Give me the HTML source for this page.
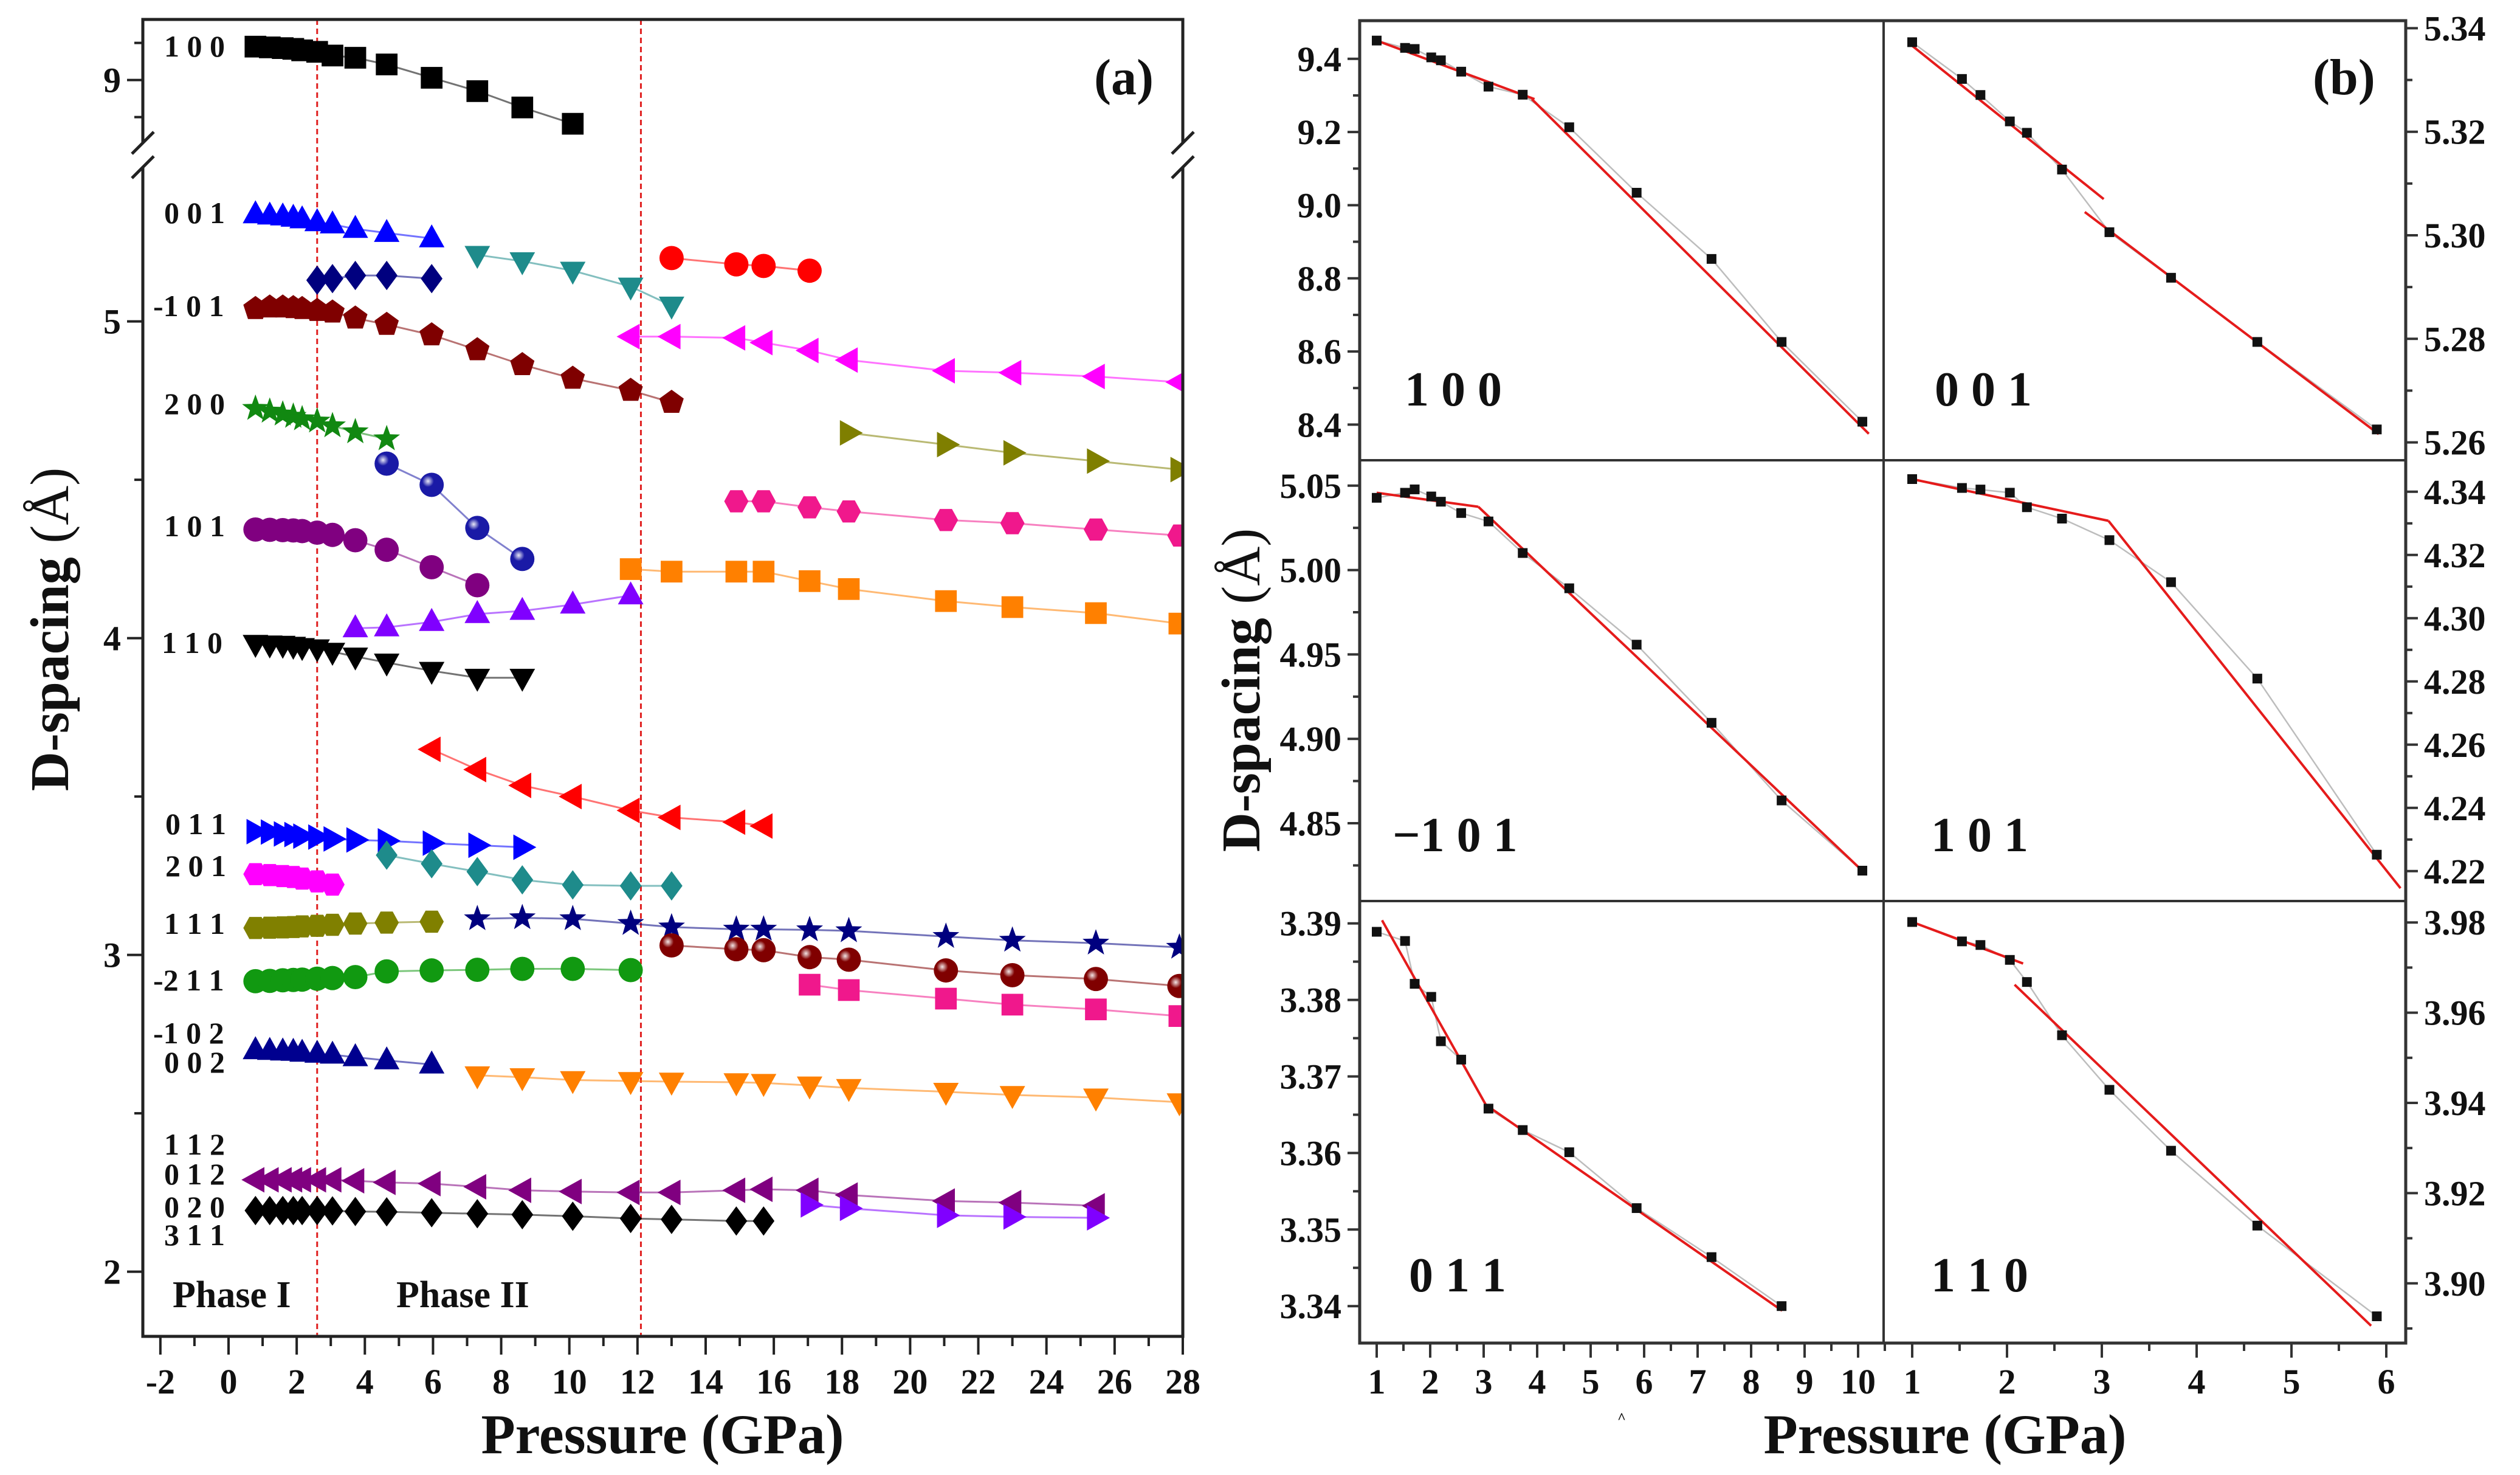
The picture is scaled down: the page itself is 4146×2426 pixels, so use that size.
<!DOCTYPE html>
<html><head><meta charset="utf-8">
<style>
html,body{margin:0;padding:0;background:#fff;}
svg{display:block;}
text{font-family:"Liberation Serif",serif;font-weight:bold;fill:#111;}
</style></head>
<body>
<svg id="chart" width="4146" height="2426" viewBox="0 0 4146 2426" xmlns="http://www.w3.org/2000/svg">
<defs>
<clipPath id="clipA"><rect x="235" y="32" width="1711" height="2166"/></clipPath>
<radialGradient id="ballHi" cx="0.35" cy="0.35" r="0.6"><stop offset="0" stop-color="#fff" stop-opacity="0.9"/><stop offset="0.4" stop-color="#fff" stop-opacity="0"/></radialGradient>
</defs>
<g id="panelA"></g>
<g id="panelB"></g>
</svg>
<script>
// ---------- Panel (a) data ----------
const pA100=[0.79,1.21,1.59,1.9,2.16,2.6,3.05,3.72,4.64,5.96,7.3,8.62,10.1];
const dA100=[9.45,9.44,9.43,9.42,9.40,9.38,9.33,9.30,9.21,9.03,8.85,8.63,8.41];
const pA001=[0.79,1.21,1.59,1.9,2.16,2.6,3.05,3.72,4.64,5.96];
const dA001=[5.338,5.334,5.331,5.327,5.322,5.313,5.306,5.292,5.279,5.262];
const pATealDown=[7.3,8.62,10.1,11.8,13.0];
const dATealDown=[5.21,5.19,5.16,5.11,5.05];
const pANavyDia=[2.6,3.05,3.72,4.64,5.96];
const dANavyDia=[5.13,5.135,5.145,5.145,5.135];
const pARedCirc=[13.0,14.9,15.7,17.05];
const dARedCirc=[5.20,5.18,5.175,5.16];
const pAm101=[0.79,1.21,1.59,1.9,2.16,2.6,3.05,3.72,4.64,5.96,7.3,8.62,10.1,11.8,13.0];
const dAm101=[5.04,5.045,5.045,5.043,5.04,5.034,5.029,5.01,4.99,4.957,4.91,4.863,4.82,4.782,4.744];
const pAMagLeft=[11.8,13.0,14.9,15.7,17.05,18.2,21.05,23.0,25.45,27.9];
const dAMagLeft=[4.952,4.952,4.948,4.933,4.908,4.878,4.844,4.838,4.826,4.808];
const pA200=[0.79,1.21,1.59,1.9,2.16,2.6,3.05,3.72,4.64];
const dA200=[4.725,4.716,4.707,4.7,4.692,4.685,4.67,4.651,4.629];
const pAOliveRight=[18.2,21.05,23.0,25.45,27.9];
const dAOliveRight=[4.648,4.611,4.585,4.559,4.532];
const pABlueBall=[4.64,5.96,7.3,8.62];
const dABlueBall=[4.551,4.484,4.348,4.25];
const pAPinkHex=[14.9,15.7,17.05,18.2,21.05,23.0,25.45,27.9];
const dAPinkHex=[4.432,4.432,4.413,4.4,4.373,4.363,4.343,4.324];
const pA101=[0.79,1.21,1.59,1.9,2.16,2.6,3.05,3.72,4.64,5.96,7.3];
const dA101=[4.343,4.342,4.341,4.340,4.338,4.333,4.326,4.309,4.279,4.224,4.167];
const pAOrangeSq=[11.8,13.0,14.9,15.7,17.05,18.2,21.05,23.0,25.45,27.9];
const dAOrangeSq=[4.218,4.21,4.21,4.21,4.18,4.155,4.117,4.098,4.079,4.046];
const pAVioletUp=[3.72,4.64,5.96,7.3,8.62,10.1,11.8];
const dAVioletUp=[4.031,4.034,4.051,4.076,4.086,4.106,4.135];
const pA110=[0.79,1.21,1.59,1.9,2.16,2.6,3.05,3.72,4.64,5.96,7.3,8.62];
const dA110=[3.982,3.980,3.979,3.976,3.972,3.968,3.957,3.942,3.923,3.897,3.875,3.875];
const pARedLeft=[5.96,7.3,8.62,10.1,11.8,13.0,14.9,15.7];
const dARedLeft=[3.649,3.585,3.535,3.5,3.456,3.434,3.419,3.407];
const pA011=[0.79,1.21,1.59,1.9,2.16,2.6,3.05,3.72,4.64,5.96,7.3,8.62];
const dA011=[3.389,3.388,3.382,3.380,3.375,3.372,3.366,3.363,3.360,3.353,3.346,3.340];
const pA201=[0.79,1.21,1.59,1.9,2.16,2.6,3.05];
const dA201=[3.255,3.252,3.249,3.246,3.241,3.232,3.222];
const pATealDia=[4.64,5.96,7.3,8.62,10.1,11.8,13.0];
const dATealDia=[3.315,3.288,3.263,3.237,3.221,3.218,3.218];
const pA111=[0.79,1.21,1.59,1.9,2.16,2.6,3.05,3.72,4.64,5.96];
const dA111=[3.085,3.086,3.087,3.088,3.090,3.092,3.095,3.099,3.102,3.105];
const pANavyStar=[7.3,8.62,10.1,11.8,13.0,14.9,15.7,17.05,18.2,21.05,23.0,25.45,27.9];
const dANavyStar=[3.114,3.117,3.114,3.099,3.088,3.081,3.081,3.079,3.076,3.058,3.046,3.037,3.024];
const pAMaroonBall=[13.0,14.9,15.7,17.05,18.2,21.05,23.0,25.45,27.9];
const dAMaroonBall=[3.03,3.018,3.015,2.993,2.985,2.951,2.936,2.924,2.902];
const pAm211=[0.79,1.21,1.59,1.9,2.16,2.6,3.05,3.72,4.64,5.96,7.3,8.62,10.1,11.8];
const dAm211=[2.917,2.918,2.920,2.921,2.922,2.925,2.927,2.930,2.948,2.951,2.953,2.956,2.956,2.952];
const pAPinkSq=[17.05,18.2,21.05,23.0,25.45,27.9];
const dAPinkSq=[2.906,2.889,2.862,2.843,2.828,2.807];
const pA002=[0.79,1.21,1.59,1.9,2.16,2.6,3.05,3.72,4.64,5.96];
const dA002=[2.699,2.697,2.695,2.694,2.691,2.688,2.685,2.677,2.667,2.654];
const pAOrangeDown=[7.3,8.62,10.1,11.8,13.0,14.9,15.7,17.05,18.2,21.05,23.0,25.45,27.9];
const dAOrangeDown=[2.62,2.614,2.605,2.602,2.600,2.598,2.596,2.588,2.58,2.568,2.558,2.55,2.535];
const pA012=[0.79,1.21,1.59,1.9,2.16,2.6,3.05,3.72,4.64,5.96,7.3,8.62,10.1,11.8,13.0,14.9,15.7,17.05,18.2,21.05,23.0,25.45];
const dA012=[2.29,2.29,2.29,2.29,2.29,2.29,2.29,2.287,2.282,2.278,2.268,2.257,2.253,2.25,2.25,2.257,2.26,2.257,2.242,2.223,2.218,2.208];
const pA311=[0.79,1.21,1.59,1.9,2.16,2.6,3.05,3.72,4.64,5.96,7.3,8.62,10.1,11.8,13.0,14.9,15.7];
const dA311=[2.193,2.193,2.193,2.193,2.193,2.193,2.192,2.19,2.189,2.186,2.183,2.18,2.175,2.168,2.165,2.16,2.16];
const pAVioletRight=[17.05,18.2,21.05,23.0,25.45];
const dAVioletRight=[2.211,2.2,2.178,2.173,2.17];
const xTicksA=[-2,0,2,4,6,8,10,12,14,16,18,20,22,24,26,28];
const yTicksLowA=[2,3,4,5];
const yTicksUpA=[9];
const phaseBoundaries=[2.6,12.1];

// ---------- Panel (b) data ----------
const pB100=[1.0,1.53,1.71,2.02,2.2,2.58,3.09,3.73,4.6,5.86,7.26,8.57,10.08];
const dB100=[9.45,9.43,9.427,9.404,9.396,9.365,9.324,9.302,9.213,9.034,8.853,8.626,8.408];
const fitB100x=[[1.0,3.95],[3.9,10.2]];
const fitB100y=[[9.45,9.29],[9.29,8.375]];
const pB001=[1.0,1.525,1.72,2.03,2.21,2.58,3.08,3.73,4.64,5.9];
const dB001=[5.3373,5.3302,5.3271,5.322,5.3198,5.3127,5.3006,5.2918,5.2794,5.2625];
const fitB001x=[[1.0,3.02],[2.82,5.92]];
const fitB001y=[[5.3366,5.307],[5.3045,5.2616]];
const pBm101=[1.0,1.53,1.71,2.02,2.2,2.58,3.09,3.73,4.6,5.86,7.26,8.57,10.08];
const dBm101=[5.0428,5.0458,5.0478,5.0436,5.0405,5.0338,5.0288,5.0101,4.9892,4.9558,4.9095,4.8635,4.8219];
const fitBm101x=[[1.0,2.9],[2.9,10.12]];
const fitBm101y=[[5.0458,5.0375],[5.0375,4.8206]];
const pB101=[1.0,1.525,1.72,2.03,2.21,2.58,3.08,3.73,4.64,5.9];
const dB101=[4.344,4.3412,4.3407,4.3397,4.3351,4.3315,4.3247,4.3114,4.2809,4.2252];
const fitB101x=[[1.0,3.07],[3.07,6.15]];
const fitB101y=[[4.344,4.3308],[4.3308,4.2146]];
const pB011=[1.0,1.53,1.71,2.02,2.2,2.58,3.09,3.73,4.6,5.86,7.26,8.57];
const dB011=[3.3889,3.3877,3.3821,3.3804,3.3746,3.3722,3.3658,3.3630,3.3601,3.3528,3.3464,3.3400];
const fitB011x=[[1.1,3.04],[3.04,8.58]];
const fitB011y=[[3.3904,3.3663],[3.3663,3.3394]];
const pB110=[1.0,1.525,1.72,2.03,2.21,2.58,3.08,3.73,4.64,5.9];
const dB110=[3.9801,3.9758,3.975,3.9717,3.9668,3.955,3.9429,3.9294,3.9128,3.8927];
const fitB110x=[[1.0,2.17],[2.08,5.84]];
const fitB110y=[[3.9801,3.9709],[3.9662,3.8906]];
const xTicksBL=[1,2,3,4,5,6,7,8,9,10];
const xTicksBR=[1,2,3,4,5,6];
const yTicksB100=[8.4,8.6,8.8,9.0,9.2,9.4];
const yTicksB001=[5.26,5.28,5.30,5.32,5.34];
const yTicksBm101=[4.85,4.90,4.95,5.00,5.05];
const yTicksB101=[4.22,4.24,4.26,4.28,4.30,4.32,4.34];
const yTicksB011=[3.34,3.35,3.36,3.37,3.38,3.39];
const yTicksB110=[3.90,3.92,3.94,3.96,3.98];

const NS="http://www.w3.org/2000/svg";
function el(tag,attrs,parent){const e=document.createElementNS(NS,tag);for(const k in attrs)e.setAttribute(k,attrs[k]);parent.appendChild(e);return e;}

// ---------- Panel A ----------
const gA=document.getElementById('panelA');
const AX0=235,AX1=1946,AY0=32,AY1=2198;
function xa(p){return 376+p*56.07;}
function ya(v){return v>=7?131.6+(9-v)*122:528.6+(5-v)*521;}

function marker(g,shape,cx,cy,color,s){
  let e;
  if(shape==='square'){e=el('rect',{x:cx-s*0.85,y:cy-s*0.85,width:s*1.7,height:s*1.7,fill:color},g);}
  else if(shape==='circle'){e=el('circle',{cx:cx,cy:cy,r:s*0.95,fill:color},g);}
  else if(shape==='ball'){e=el('circle',{cx:cx,cy:cy,r:s*0.95,fill:color},g);el('circle',{cx:cx,cy:cy,r:s*0.95,fill:'url(#ballHi)'},g);}
  else{
    let pts=[];
    if(shape==='up')pts=[[0,-1.1],[1,0.7],[-1,0.7]];
    else if(shape==='down')pts=[[0,1.1],[1,-0.7],[-1,-0.7]];
    else if(shape==='left')pts=[[-1.1,0],[0.7,-1],[0.7,1]];
    else if(shape==='right')pts=[[1.1,0],[-0.7,-1],[-0.7,1]];
    else if(shape==='diamond')pts=[[0,-1.15],[0.85,0],[0,1.15],[-0.85,0]];
    else if(shape==='pent'){for(let i=0;i<5;i++){const a=-Math.PI/2+i*2*Math.PI/5;pts.push([Math.cos(a),Math.sin(a)]);}}
    else if(shape==='hex'){for(let i=0;i<6;i++){const a=i*Math.PI/3;pts.push([Math.cos(a)*0.95,Math.sin(a)*1.0]);}}
    else if(shape==='star'){for(let i=0;i<10;i++){const a=-Math.PI/2+i*Math.PI/5;const r=i%2?0.45:1.1;pts.push([Math.cos(a)*r,Math.sin(a)*r]);}}
    e=el('polygon',{points:pts.map(q=>(cx+q[0]*s).toFixed(1)+','+(cy+q[1]*s).toFixed(1)).join(' '),fill:color},g);
  }
  return e;
}

const seriesA=[
 {n:'series-100',p:pA100,d:dA100,sh:'square',c:'#000000'},
 {n:'series-001',p:pA001,d:dA001,sh:'up',c:'#0000ff'},
 {n:'series-teal-down',p:pATealDown,d:dATealDown,sh:'down',c:'#1e8b8b'},
 {n:'series-navy-diamond',p:pANavyDia,d:dANavyDia,sh:'diamond',c:'#00007f'},
 {n:'series-red-circle',p:pARedCirc,d:dARedCirc,sh:'circle',c:'#ff0000'},
 {n:'series-m101',p:pAm101,d:dAm101,sh:'pent',c:'#7f0000'},
 {n:'series-magenta-left',p:pAMagLeft,d:dAMagLeft,sh:'left',c:'#ff00ff'},
 {n:'series-200',p:pA200,d:dA200,sh:'star',c:'#118811'},
 {n:'series-olive-right',p:pAOliveRight,d:dAOliveRight,sh:'right',c:'#7f7f00'},
 {n:'series-blue-ball',p:pABlueBall,d:dABlueBall,sh:'ball',c:'#1a1aa6'},
 {n:'series-pink-hex',p:pAPinkHex,d:dAPinkHex,sh:'hex',c:'#f0188c'},
 {n:'series-101',p:pA101,d:dA101,sh:'circle',c:'#800080'},
 {n:'series-orange-square',p:pAOrangeSq,d:dAOrangeSq,sh:'square',c:'#ff8000'},
 {n:'series-violet-up',p:pAVioletUp,d:dAVioletUp,sh:'up',c:'#8000ff'},
 {n:'series-110',p:pA110,d:dA110,sh:'down',c:'#000000'},
 {n:'series-red-left',p:pARedLeft,d:dARedLeft,sh:'left',c:'#ff0000'},
 {n:'series-011',p:pA011,d:dA011,sh:'right',c:'#0000ff'},
 {n:'series-201',p:pA201,d:dA201,sh:'hex',c:'#ff00ff'},
 {n:'series-teal-diamond',p:pATealDia,d:dATealDia,sh:'diamond',c:'#1e8b8b'},
 {n:'series-111',p:pA111,d:dA111,sh:'hex',c:'#808000'},
 {n:'series-navy-star',p:pANavyStar,d:dANavyStar,sh:'star',c:'#00007f'},
 {n:'series-maroon-ball',p:pAMaroonBall,d:dAMaroonBall,sh:'ball',c:'#800000'},
 {n:'series-m211',p:pAm211,d:dAm211,sh:'circle',c:'#119911'},
 {n:'series-pink-square',p:pAPinkSq,d:dAPinkSq,sh:'square',c:'#f0188c'},
 {n:'series-002',p:pA002,d:dA002,sh:'up',c:'#00008f'},
 {n:'series-orange-down',p:pAOrangeDown,d:dAOrangeDown,sh:'down',c:'#ff8000'},
 {n:'series-012',p:pA012,d:dA012,sh:'left',c:'#800080'},
 {n:'series-311',p:pA311,d:dA311,sh:'diamond',c:'#000000'},
 {n:'series-violet-right',p:pAVioletRight,d:dAVioletRight,sh:'right',c:'#8000ff'}
];

// phase boundaries
phaseBoundaries.forEach((b,i)=>{
  const l=el('line',{x1:xa(b),x2:xa(b),y1:AY0,y2:AY1,stroke:'#e02020','stroke-width':3,'stroke-dasharray':'9,6'},gA);
  
  
});

const dataA=el('g',{'clip-path':'url(#clipA)'},gA);


seriesA.forEach(s=>{
  const g=el('g',{},dataA);
  
  
  const pts=s.p.map((p,i)=>xa(p).toFixed(1)+','+ya(s.d[i]).toFixed(1)).join(' ');
  el('polyline',{points:pts,fill:'none',stroke:s.c,'stroke-width':3,'stroke-opacity':0.55},g);
  s.p.forEach((p,i)=>{
    const m=marker(g,s.sh,xa(p),ya(s.d[i]),s.c,21);
    
    
  });
});

// frame A (with break)
const BRK=255;
const frameA=el('g',{stroke:'#222','stroke-width':5,fill:'none'},gA);


el('path',{d:`M${AX0},${BRK-20} L${AX0},${AY0} L${AX1},${AY0} L${AX1},${BRK-20} M${AX0},${BRK+20} L${AX0},${AY1} L${AX1},${AY1} L${AX1},${BRK+20}`},frameA);
[AX0,AX1].forEach(x=>{
  el('line',{x1:x-18,y1:BRK-2,x2:x+18,y2:BRK-38},frameA);
  el('line',{x1:x-18,y1:BRK+38,x2:x+18,y2:BRK+2},frameA);
});
// x ticks A
const axA=el('g',{},gA);


for(let p=-2;p<=28;p++){
  el('line',{x1:xa(p),x2:xa(p),y1:AY1,y2:AY1+(p%2===0?30:16),stroke:'#222','stroke-width':4},axA);
}
xTicksA.forEach(t=>{
  const tx=el('text',{x:xa(t),y:2292,'text-anchor':'middle','font-size':58},axA);
  tx.textContent=t;
  
  
});
// y ticks A
const ayA=el('g',{},gA);


[2,2.5,3,3.5,4,4.5,5].forEach(v=>el('line',{x1:AX0-(v%1===0?26:14),x2:AX0,y1:ya(v),y2:ya(v),stroke:'#222','stroke-width':4},ayA));
[8.5,9,9.5].forEach(v=>el('line',{x1:AX0-(v%1===0?26:14),x2:AX0,y1:ya(v),y2:ya(v),stroke:'#222','stroke-width':4},ayA));
yTicksLowA.concat(yTicksUpA).forEach(v=>{
  const tx=el('text',{x:AX0-36,y:ya(v)+20,'text-anchor':'end','font-size':58},ayA);
  tx.textContent=v;
  
  
});

// ---------- Panel B ----------
const gB=document.getElementById('panelB');
const BX0=2237,BXM=3099,BX1=3958;
const rows=[[34,757],[757,1482],[1482,2209]];
function xbl(p){return 2265+(p-1)*88;}
function xbr(p){return 3146+(p-1)*156;}
const y100=v=>96.8+(9.4-v)*601.6;
const y001=v=>46.4+(5.34-v)*8515;
const ym101=v=>798.8+(5.05-v)*2776;
const y101=v=>808.8+(4.34-v)*5200;
const y011=v=>1518.7+(3.39-v)*12590;
const y110=v=>1517.2+(3.98-v)*7420;

const subs=[
 {n:'subplot-100',xs:xbl,ys:y100,p:pB100,d:dB100,fx:fitB100x,fy:fitB100y,ticks:yTicksB100,minor:0.1,dec:1,side:'L',row:0,lab:'1 0 0',lx:2311,ly:667},
 {n:'subplot-001',xs:xbr,ys:y001,p:pB001,d:dB001,fx:fitB001x,fy:fitB001y,ticks:yTicksB001,minor:0.01,dec:2,side:'R',row:0,lab:'0 0 1',lx:3183,ly:667},
 {n:'subplot-m101',xs:xbl,ys:ym101,p:pBm101,d:dBm101,fx:fitBm101x,fy:fitBm101y,ticks:yTicksBm101,minor:0.025,dec:2,side:'L',row:1,lab:'\u22121 0 1',lx:2291,ly:1400},
 {n:'subplot-101',xs:xbr,ys:y101,p:pB101,d:dB101,fx:fitB101x,fy:fitB101y,ticks:yTicksB101,minor:0.01,dec:2,side:'R',row:1,lab:'1 0 1',lx:3177,ly:1400},
 {n:'subplot-011',xs:xbl,ys:y011,p:pB011,d:dB011,fx:fitB011x,fy:fitB011y,ticks:yTicksB011,minor:0.005,dec:2,side:'L',row:2,lab:'0 1 1',lx:2318,ly:2124},
 {n:'subplot-110',xs:xbr,ys:y110,p:pB110,d:dB110,fx:fitB110x,fy:fitB110y,ticks:yTicksB110,minor:0.01,dec:2,side:'R',row:2,lab:'1 1 0',lx:3177,ly:2124}
];
subs.forEach(s=>{
  const g=el('g',{},gB);
  
  
  const [r0,r1]=rows[s.row];
  // gray connecting line
  el('polyline',{points:s.p.map((p,i)=>s.xs(p).toFixed(1)+','+s.ys(s.d[i]).toFixed(1)).join(' '),fill:'none',stroke:'#bdbdbd','stroke-width':2.5},g);
  // red fits
  s.fx.forEach((fx,k)=>{
    const l=el('line',{x1:s.xs(fx[0]),y1:s.ys(s.fy[k][0]),x2:s.xs(fx[1]),y2:s.ys(s.fy[k][1]),stroke:'#e51b1b','stroke-width':4},g);
    
    
  });
  s.p.forEach((p,i)=>{
    const r=el('rect',{x:s.xs(p)-8,y:s.ys(s.d[i])-8,width:16,height:16,fill:'#111'},g);
    
    
  });
  // y ticks
  const lo=s.ticks[0]-s.minor*2, hi=s.ticks[s.ticks.length-1]+s.minor*2;
  const axX=s.side==='L'?BX0:BX1, dir=s.side==='L'?-1:1;
  for(let v=lo;v<=hi+1e-9;v+=s.minor){
    const y=s.ys(v); if(y<r0+4||y>r1-4)continue;
    const major=s.ticks.some(t=>Math.abs(t-v)<s.minor/3);
    el('line',{x1:axX,x2:axX+dir*(major?20:11),y1:y,y2:y,stroke:'#333','stroke-width':4},g);
  }
  s.ticks.forEach(v=>{
    const tx=el('text',{x:axX+dir*30,y:s.ys(v)+20,'text-anchor':s.side==='L'?'end':'start','font-size':58},g);
    tx.textContent=v.toFixed(s.dec);
    
    
  });
  const lt=el('text',{x:s.lx,y:s.ly,'font-size':80},g);
  lt.textContent=s.lab;
  
  
});
// frame B
const frameB=el('g',{stroke:'#333',fill:'none'},gB);


el('rect',{x:BX0,y:34,width:BX1-BX0,height:2209-34,'stroke-width':5},frameB);
el('line',{x1:BXM,x2:BXM,y1:34,y2:2209,'stroke-width':4},frameB);
el('line',{x1:BX0,x2:BX1,y1:757,y2:757,'stroke-width':4},frameB);
el('line',{x1:BX0,x2:BX1,y1:1482,y2:1482,'stroke-width':4},frameB);
// x ticks B
const axB=el('g',{},gB);


for(let p=1;p<=10.5;p+=0.5){el('line',{x1:xbl(p),x2:xbl(p),y1:2209,y2:2209+(p%1===0?24:13),stroke:'#333','stroke-width':4},axB);}
for(let p=1;p<=6;p+=0.5){el('line',{x1:xbr(p),x2:xbr(p),y1:2209,y2:2209+(p%1===0?24:13),stroke:'#333','stroke-width':4},axB);}
xTicksBL.forEach(t=>{const tx=el('text',{x:xbl(t),y:2292,'text-anchor':'middle','font-size':58},axB);tx.textContent=t;
 
 });
xTicksBR.forEach(t=>{const tx=el('text',{x:xbr(t),y:2292,'text-anchor':'middle','font-size':58},axB);tx.textContent=t;
 
 });
</script>
<svg style="position:absolute;left:0;top:0" width="4146" height="2426" viewBox="0 0 4146 2426" xmlns="http://www.w3.org/2000/svg">
<text x="1800" y="155" font-size="84">(a)</text>
<text x="3805" y="155" font-size="84">(b)</text>
<text x="284" y="2150" font-size="62">Phase I</text>
<text x="652" y="2150" font-size="62">Phase II</text>
<text transform="translate(112,1035) rotate(-90)" text-anchor="middle" font-size="90">D-spacing <tspan font-weight="normal">(Å)</tspan></text>
<text transform="translate(2072,1135) rotate(-90)" text-anchor="middle" font-size="90">D-spacing <tspan font-weight="normal">(Å)</tspan></text>
<text x="1090" y="2390" text-anchor="middle" font-size="92">Pressure (GPa)</text>
<text x="3200" y="2390" text-anchor="middle" font-size="92">Pressure (GPa)</text>
<text x="2668" y="2340" text-anchor="middle" font-size="24" font-weight="normal">^</text>
<g font-size="50">
<text x="270" y="93">1 0 0</text>
<text x="270" y="367">0 0 1</text>
<text x="252" y="520">-1 0 1</text>
<text x="270" y="681">2 0 0</text>
<text x="270" y="882">1 0 1</text>
<text x="266" y="1074">1 1 0</text>
<text x="272" y="1372">0 1 1</text>
<text x="272" y="1441">2 0 1</text>
<text x="270" y="1536">1 1 1</text>
<text x="252" y="1629">-2 1 1</text>
<text x="252" y="1716">-1 0 2</text>
<text x="270" y="1764">0 0 2</text>
<text x="270" y="1899">1 1 2</text>
<text x="270" y="1948">0 1 2</text>
<text x="270" y="2002">0 2 0</text>
<text x="270" y="2048">3 1 1</text>
</g>
</svg>
</body></html>
